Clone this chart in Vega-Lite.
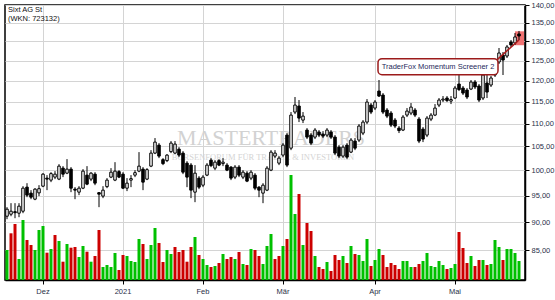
{
"$schema": "https://vega.github.io/schema/vega-lite/v6.json",
"width": 520, "height": 275,
"autosize": {"type": "none"},
"padding": {"left": 5, "top": 5, "right": 30, "bottom": 20},
"background": "#ffffff",
"title": {"text": "Sixt AG St", "subtitle": "(WKN: 723132)", "anchor": "start", "frame": "group", "offset": -21, "dx": 3, "font": "Liberation Sans", "fontSize": 7.5, "fontWeight": "normal", "color": "#111111", "subtitleFont": "Liberation Sans", "subtitleFontSize": 7.5, "subtitleColor": "#111111", "subtitlePadding": 1},
"config": {
  "view": {"stroke": "#000000", "strokeWidth": 1.5},
  "axis": {"labelFont": "Liberation Sans", "labelFontSize": 7.5, "labelColor": "#283048", "domainColor": "#000000", "tickColor": "#000000", "tickSize": 4, "gridColor": "#d4d4d4", "gridWidth": 1}
},
"datasets": {"ohlc": [
{"date":"2020-11-18","open":91.09,"high":92.78,"low":90.54,"close":92.40,"volume":60000},
{"date":"2020-11-19","open":91.46,"high":93.54,"low":91.09,"close":92.02,"volume":93400},
{"date":"2020-11-20","open":91.93,"high":93.54,"low":90.72,"close":91.74,"volume":112000},
{"date":"2020-11-23","open":91.65,"high":93.54,"low":90.91,"close":92.97,"volume":42000},
{"date":"2020-11-24","open":92.02,"high":96.83,"low":91.65,"close":96.44,"volume":120000},
{"date":"2020-11-25","open":96.64,"high":97.42,"low":94.69,"close":95.08,"volume":80000},
{"date":"2020-11-26","open":95.47,"high":96.05,"low":94.30,"close":94.69,"volume":70000},
{"date":"2020-11-27","open":94.30,"high":96.44,"low":94.11,"close":96.25,"volume":60000},
{"date":"2020-11-30","open":95.52,"high":97.03,"low":94.89,"close":96.34,"volume":100000},
{"date":"2020-12-01","open":96.83,"high":99.43,"low":96.64,"close":99.23,"volume":108000},
{"date":"2020-12-02","open":98.43,"high":99.03,"low":96.05,"close":98.23,"volume":54600},
{"date":"2020-12-03","open":98.03,"high":99.63,"low":97.63,"close":99.33,"volume":62000},
{"date":"2020-12-04","open":98.63,"high":99.84,"low":98.23,"close":99.23,"volume":90000},
{"date":"2020-12-07","open":98.23,"high":101.27,"low":98.03,"close":100.86,"volume":78000},
{"date":"2020-12-08","open":100.45,"high":100.86,"low":98.63,"close":99.23,"volume":36600},
{"date":"2020-12-09","open":99.43,"high":102.31,"low":99.23,"close":100.25,"volume":72000},
{"date":"2020-12-10","open":100.25,"high":100.66,"low":95.66,"close":96.44,"volume":64600},
{"date":"2020-12-11","open":96.25,"high":96.64,"low":94.30,"close":96.05,"volume":66000},
{"date":"2020-12-14","open":95.66,"high":96.83,"low":95.08,"close":96.44,"volume":46000},
{"date":"2020-12-15","open":96.44,"high":100.25,"low":96.25,"close":99.84,"volume":68000},
{"date":"2020-12-16","open":99.03,"high":100.86,"low":97.03,"close":97.23,"volume":56600},
{"date":"2020-12-17","open":98.23,"high":99.63,"low":97.83,"close":99.43,"volume":36600},
{"date":"2020-12-18","open":99.23,"high":99.63,"low":97.03,"close":97.43,"volume":48000},
{"date":"2020-12-21","open":95.56,"high":95.66,"low":92.78,"close":95.27,"volume":100000},
{"date":"2020-12-22","open":94.89,"high":96.83,"low":94.50,"close":96.05,"volume":26000},
{"date":"2020-12-23","open":96.74,"high":98.43,"low":96.44,"close":98.03,"volume":30000},
{"date":"2020-12-28","open":98.63,"high":100.45,"low":98.43,"close":99.63,"volume":26000},
{"date":"2020-12-29","open":98.03,"high":101.68,"low":97.83,"close":99.84,"volume":54000},
{"date":"2020-12-30","open":99.74,"high":100.04,"low":98.43,"close":98.63,"volume":20000},
{"date":"2021-01-04","open":99.23,"high":99.63,"low":96.25,"close":96.44,"volume":50000},
{"date":"2021-01-05","open":96.44,"high":98.43,"low":95.86,"close":97.43,"volume":48000},
{"date":"2021-01-06","open":98.03,"high":99.03,"low":96.64,"close":98.33,"volume":38000},
{"date":"2021-01-07","open":99.03,"high":100.04,"low":98.63,"close":99.53,"volume":36000},
{"date":"2021-01-08","open":99.84,"high":103.78,"low":99.63,"close":100.86,"volume":82000},
{"date":"2021-01-11","open":100.25,"high":100.66,"low":96.05,"close":97.63,"volume":72000},
{"date":"2021-01-12","open":98.23,"high":100.45,"low":98.03,"close":100.14,"volume":42000},
{"date":"2021-01-13","open":100.86,"high":104.20,"low":100.66,"close":103.57,"volume":70000},
{"date":"2021-01-14","open":103.57,"high":106.79,"low":103.36,"close":105.92,"volume":104000},
{"date":"2021-01-15","open":105.27,"high":105.70,"low":102.52,"close":102.94,"volume":74000},
{"date":"2021-01-18","open":102.20,"high":102.52,"low":101.07,"close":101.38,"volume":36000},
{"date":"2021-01-19","open":102.00,"high":103.36,"low":101.69,"close":103.15,"volume":60000},
{"date":"2021-01-20","open":103.88,"high":106.14,"low":103.57,"close":105.70,"volume":52000},
{"date":"2021-01-21","open":103.57,"high":106.14,"low":103.36,"close":105.49,"volume":66000},
{"date":"2021-01-22","open":104.41,"high":104.84,"low":102.73,"close":103.15,"volume":56000},
{"date":"2021-01-25","open":103.57,"high":103.99,"low":99.23,"close":99.63,"volume":60000},
{"date":"2021-01-26","open":101.48,"high":101.89,"low":96.64,"close":98.63,"volume":36600},
{"date":"2021-01-27","open":101.07,"high":101.48,"low":94.50,"close":96.05,"volume":66000},
{"date":"2021-01-28","open":95.66,"high":101.07,"low":93.73,"close":99.43,"volume":86000},
{"date":"2021-01-29","open":98.43,"high":98.83,"low":96.25,"close":96.64,"volume":50000},
{"date":"2021-02-01","open":97.03,"high":99.03,"low":96.64,"close":98.63,"volume":42000},
{"date":"2021-02-02","open":99.03,"high":101.48,"low":98.83,"close":101.07,"volume":30000},
{"date":"2021-02-03","open":102.10,"high":102.52,"low":100.66,"close":100.97,"volume":26000},
{"date":"2021-02-04","open":100.45,"high":102.10,"low":100.04,"close":101.69,"volume":28000},
{"date":"2021-02-05","open":102.00,"high":102.31,"low":100.86,"close":101.07,"volume":34000},
{"date":"2021-02-08","open":101.38,"high":102.52,"low":100.86,"close":101.69,"volume":52000},
{"date":"2021-02-09","open":101.07,"high":101.48,"low":99.84,"close":100.04,"volume":42000},
{"date":"2021-02-10","open":100.66,"high":100.86,"low":98.03,"close":98.43,"volume":46000},
{"date":"2021-02-11","open":98.63,"high":101.07,"low":98.23,"close":100.66,"volume":42000},
{"date":"2021-02-12","open":100.66,"high":101.07,"low":98.63,"close":99.03,"volume":56000},
{"date":"2021-02-15","open":98.63,"high":100.04,"low":98.23,"close":99.63,"volume":32000},
{"date":"2021-02-16","open":99.43,"high":99.84,"low":97.63,"close":97.83,"volume":30000},
{"date":"2021-02-17","open":98.43,"high":100.04,"low":98.03,"close":99.63,"volume":62000},
{"date":"2021-02-18","open":99.03,"high":99.43,"low":96.05,"close":96.44,"volume":60000},
{"date":"2021-02-19","open":96.64,"high":96.83,"low":94.69,"close":96.05,"volume":48000},
{"date":"2021-02-22","open":95.47,"high":97.42,"low":93.54,"close":97.03,"volume":32000},
{"date":"2021-02-23","open":96.05,"high":100.86,"low":95.86,"close":100.45,"volume":68000},
{"date":"2021-02-24","open":100.04,"high":104.20,"low":99.84,"close":103.78,"volume":92000},
{"date":"2021-02-25","open":102.94,"high":104.20,"low":102.52,"close":103.57,"volume":42000},
{"date":"2021-02-26","open":101.48,"high":102.94,"low":101.07,"close":102.52,"volume":48000},
{"date":"2021-03-01","open":103.15,"high":105.70,"low":102.73,"close":105.27,"volume":68000},
{"date":"2021-03-02","open":107.44,"high":107.88,"low":100.66,"close":101.07,"volume":82000},
{"date":"2021-03-03","open":104.62,"high":112.59,"low":104.20,"close":111.90,"volume":210000},
{"date":"2021-03-04","open":112.59,"high":116.09,"low":112.13,"close":114.21,"volume":132000},
{"date":"2021-03-05","open":113.98,"high":115.38,"low":110.32,"close":111.22,"volume":172000},
{"date":"2021-03-08","open":110.77,"high":112.59,"low":110.10,"close":111.67,"volume":70000},
{"date":"2021-03-09","open":108.54,"high":108.98,"low":106.57,"close":107.00,"volume":114000},
{"date":"2021-03-10","open":107.44,"high":107.88,"low":105.27,"close":105.70,"volume":98000},
{"date":"2021-03-11","open":107.00,"high":108.98,"low":106.57,"close":108.54,"volume":48000},
{"date":"2021-03-12","open":108.10,"high":108.54,"low":107.00,"close":107.44,"volume":26000},
{"date":"2021-03-15","open":107.66,"high":108.32,"low":106.79,"close":107.22,"volume":22000},
{"date":"2021-03-16","open":107.44,"high":108.98,"low":107.00,"close":108.54,"volume":36000},
{"date":"2021-03-17","open":108.10,"high":108.54,"low":106.57,"close":107.00,"volume":18000},
{"date":"2021-03-18","open":107.00,"high":107.44,"low":103.15,"close":103.57,"volume":50000},
{"date":"2021-03-19","open":104.84,"high":105.27,"low":102.52,"close":102.94,"volume":40000},
{"date":"2021-03-22","open":102.94,"high":105.27,"low":102.52,"close":104.84,"volume":48000},
{"date":"2021-03-23","open":105.27,"high":105.70,"low":102.31,"close":102.73,"volume":34000},
{"date":"2021-03-24","open":103.78,"high":106.79,"low":103.57,"close":106.35,"volume":68000},
{"date":"2021-03-25","open":106.14,"high":106.79,"low":104.20,"close":104.62,"volume":52000},
{"date":"2021-03-26","open":106.35,"high":109.87,"low":105.92,"close":109.43,"volume":50000},
{"date":"2021-03-29","open":107.88,"high":110.77,"low":107.44,"close":110.32,"volume":38000},
{"date":"2021-03-30","open":110.32,"high":115.61,"low":109.87,"close":114.91,"volume":82000},
{"date":"2021-03-31","open":114.21,"high":114.68,"low":112.13,"close":112.59,"volume":28000},
{"date":"2021-04-01","open":113.51,"high":115.38,"low":113.05,"close":114.91,"volume":40000},
{"date":"2021-04-06","open":117.51,"high":120.18,"low":116.09,"close":116.32,"volume":62000},
{"date":"2021-04-07","open":116.56,"high":117.03,"low":112.13,"close":112.59,"volume":50000},
{"date":"2021-04-08","open":113.05,"high":113.51,"low":111.22,"close":111.67,"volume":26000},
{"date":"2021-04-09","open":112.36,"high":112.82,"low":109.21,"close":109.65,"volume":34000},
{"date":"2021-04-12","open":110.77,"high":111.22,"low":108.98,"close":109.43,"volume":30000},
{"date":"2021-04-13","open":108.98,"high":109.43,"low":107.88,"close":108.43,"volume":22000},
{"date":"2021-04-14","open":108.54,"high":111.90,"low":108.32,"close":111.45,"volume":38000},
{"date":"2021-04-15","open":111.90,"high":113.51,"low":111.45,"close":112.82,"volume":38000},
{"date":"2021-04-16","open":112.36,"high":114.68,"low":111.90,"close":113.74,"volume":26000},
{"date":"2021-04-19","open":113.05,"high":113.51,"low":111.45,"close":111.90,"volume":26000},
{"date":"2021-04-20","open":110.99,"high":111.45,"low":105.70,"close":106.14,"volume":32000},
{"date":"2021-04-21","open":108.76,"high":109.21,"low":105.92,"close":106.57,"volume":38000},
{"date":"2021-04-22","open":107.44,"high":111.67,"low":107.00,"close":111.22,"volume":54000},
{"date":"2021-04-23","open":110.99,"high":112.36,"low":110.54,"close":111.90,"volume":28000},
{"date":"2021-04-26","open":111.90,"high":114.44,"low":111.67,"close":113.51,"volume":26000},
{"date":"2021-04-27","open":114.21,"high":115.85,"low":113.74,"close":115.38,"volume":38000},
{"date":"2021-04-28","open":115.38,"high":116.32,"low":114.91,"close":115.61,"volume":30000},
{"date":"2021-04-29","open":115.85,"high":116.32,"low":114.91,"close":115.26,"volume":22000},
{"date":"2021-04-30","open":115.14,"high":116.32,"low":114.44,"close":115.50,"volume":24000},
{"date":"2021-05-03","open":115.85,"high":118.72,"low":115.61,"close":118.23,"volume":32000},
{"date":"2021-05-04","open":119.20,"high":121.41,"low":117.51,"close":117.87,"volume":96000},
{"date":"2021-05-05","open":118.23,"high":118.72,"low":116.56,"close":117.03,"volume":64000},
{"date":"2021-05-06","open":117.75,"high":118.23,"low":115.61,"close":116.09,"volume":34000},
{"date":"2021-05-07","open":117.99,"high":120.18,"low":117.75,"close":119.69,"volume":48000},
{"date":"2021-05-10","open":119.69,"high":120.18,"low":117.99,"close":118.48,"volume":28000},
{"date":"2021-05-11","open":118.72,"high":119.20,"low":114.91,"close":115.38,"volume":40000},
{"date":"2021-05-12","open":115.85,"high":121.90,"low":115.38,"close":121.41,"volume":40000},
{"date":"2021-05-13","open":119.45,"high":121.41,"low":115.85,"close":117.27,"volume":30000},
{"date":"2021-05-14","open":118.96,"high":121.16,"low":118.48,"close":120.67,"volume":32000},
{"date":"2021-05-17","open":121.41,"high":124.40,"low":120.92,"close":123.90,"volume":80000},
{"date":"2021-05-18","open":124.66,"high":128.27,"low":124.15,"close":126.97,"volume":66000},
{"date":"2021-05-19","open":126.45,"high":127.23,"low":121.41,"close":125.17,"volume":40000},
{"date":"2021-05-20","open":126.19,"high":129.06,"low":125.68,"close":128.54,"volume":62000},
{"date":"2021-05-21","open":129.85,"high":130.38,"low":128.54,"close":129.06,"volume":62000},
{"date":"2021-05-24","open":129.59,"high":132.24,"low":129.06,"close":131.18,"volume":54000},
{"date":"2021-05-25","open":131.98,"high":132.79,"low":130.38,"close":131.44,"volume":38000}
]},
"data": {"name": "ohlc"},
"layer": [
  {
    "transform": [{"window": [{"op": "lag", "field": "close", "as": "prev"}], "sort": [{"field": "date", "order": "ascending"}]}],
    "mark": {"type": "bar", "size": 3},
    "encoding": {
      "x": {"field": "date", "type": "ordinal", "title": null,
            "scale": {"type": "band", "paddingInner": 0, "paddingOuter": 0, "domain": {"unionWith": ["2021-05-26"]}},
            "axis": {"orient": "bottom", "values": ["2020-12-01", "2021-01-04", "2021-02-01", "2021-03-01", "2021-04-01", "2021-05-03"],
                     "labelExpr": "datum.value == '2020-12-01' ? 'Dez' : datum.value == '2021-01-04' ? '2021' : datum.value == '2021-02-01' ? 'Feb' : datum.value == '2021-03-01' ? 'Mär' : datum.value == '2021-04-01' ? 'Apr' : 'Mai'",
                     "grid": true, "bandPosition": 0.5, "labelAngle": 0, "labelPadding": 3, "domainWidth": 1.5}},
      "y": {"field": "volume", "type": "quantitative", "title": null, "scale": {"domain": [0, 550000]}, "axis": null},
      "color": {"condition": {"test": "datum.prev == null || datum.close > datum.prev", "value": "#00c000"}, "value": "#cc0000"}
    }
  },
  {
    "layer": [
      {
        "data": {"values": [{}]},
        "mark": {"type": "text", "text": "MASTERTRADERS", "font": "Liberation Serif", "fontSize": 22, "color": "#d2d2d2", "align": "center", "baseline": "alphabetic"},
        "encoding": {"x": {"datum": "2021-02-24", "type": "ordinal"}, "y": {"datum": 105.3, "type": "quantitative"}}
      },
      {
        "data": {"values": [{}]},
        "mark": {"type": "text", "text": "BÖRSENFORUM FÜR TRADER & INVESTOREN", "font": "Liberation Serif", "fontSize": 8.5, "color": "#d4d4d4", "align": "center", "baseline": "alphabetic"},
        "encoding": {"x": {"datum": "2021-02-22", "type": "ordinal"}, "y": {"datum": 102.2, "type": "quantitative"}}
      },
      {
        "data": {"values": [{}]},
        "mark": {"type": "rect", "fill": "#f07272"},
        "encoding": {"x": {"datum": "2021-05-24", "type": "ordinal", "bandPosition": 0.5}, "x2": {"datum": "2021-05-26", "bandPosition": 0.75},
                     "y": {"datum": 132.7, "type": "quantitative"}, "y2": {"datum": 129.0}}
      },
      {
        "mark": {"type": "rule", "color": "#000000", "strokeWidth": 1},
        "encoding": {
          "x": {"field": "date", "type": "ordinal", "title": null},
          "y": {"field": "low", "type": "quantitative", "title": null,
                "scale": {"type": "log", "domain": [80, 140], "nice": false, "zero": false},
                "axis": {"orient": "right", "values": [85, 90, 95, 100, 105, 110, 115, 120, 125, 130, 135, 140],
                         "labelExpr": "replace(format(datum.value, '.2f'), '.', ',')", "grid": true, "labelPadding": 2, "domainWidth": 1.5, "title": null}},
          "y2": {"field": "high"}
        }
      },
      {
        "mark": {"type": "bar", "size": 2.5, "stroke": "#000000", "strokeWidth": 1},
        "encoding": {
          "x": {"field": "date", "type": "ordinal", "title": null},
          "y": {"field": "open", "type": "quantitative", "title": null},
          "y2": {"field": "close"},
          "fill": {"condition": {"test": "datum.close >= datum.open", "value": "#ffffff"}, "value": "#000000"}
        }
      },
      {
        "data": {"values": [{}]},
        "mark": {"type": "rule", "color": "#a81c1c", "strokeWidth": 1.5},
        "encoding": {"x": {"datum": "2021-05-18", "type": "ordinal", "bandPosition": 0}, "x2": {"datum": "2021-05-25", "bandPosition": 0.5},
                     "y": {"datum": 125.2, "type": "quantitative"}, "y2": {"datum": 130.4}}
      },
      {
        "data": {"values": [{}]},
        "mark": {"type": "rect", "fill": "#ffffff", "stroke": "#9c1b1b", "strokeWidth": 1.5, "cornerRadius": 4},
        "encoding": {"x": {"datum": "2021-04-06", "type": "ordinal", "bandPosition": 0.25}, "x2": {"datum": "2021-05-18", "bandPosition": 0.25},
                     "y": {"datum": 125.5, "type": "quantitative"}, "y2": {"datum": 121.5}}
      },
      {
        "data": {"values": [{}]},
        "mark": {"type": "text", "text": "TraderFox Momentum Screener 2", "font": "Liberation Sans", "fontSize": 7.5, "color": "#1f2a5c", "align": "center", "baseline": "middle"},
        "encoding": {"x": {"datum": "2021-04-27", "type": "ordinal", "bandPosition": 0.25}, "y": {"datum": 123.5, "type": "quantitative"}}
      }
    ]
  }
],
"resolve": {"scale": {"y": "independent"}}
}
